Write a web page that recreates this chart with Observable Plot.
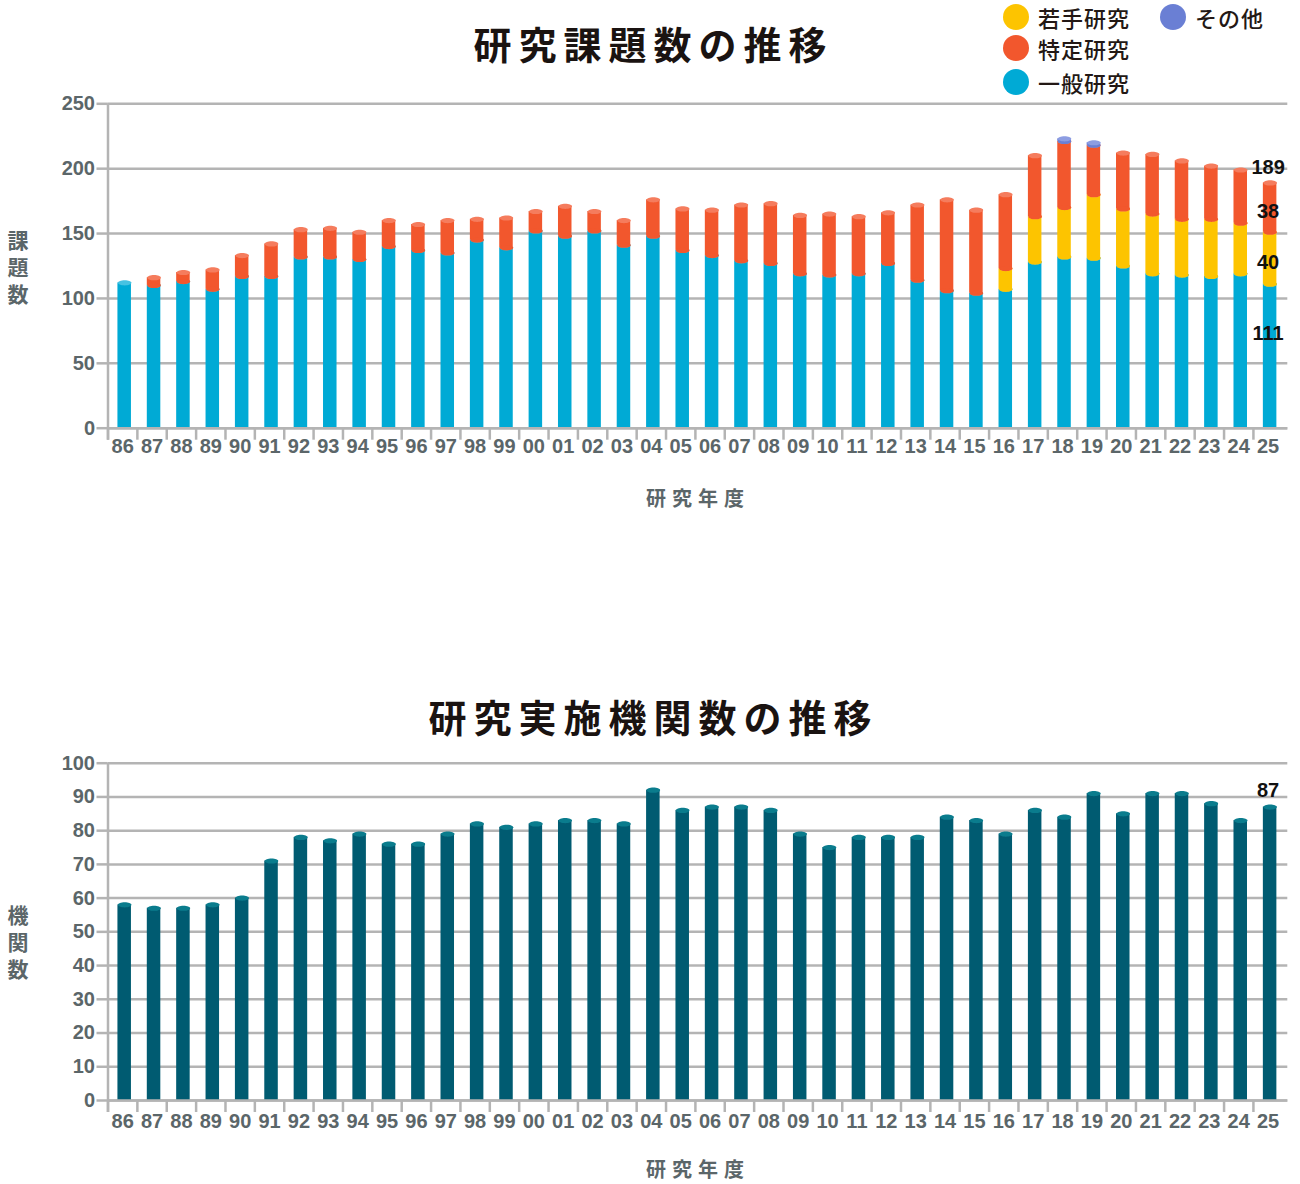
<!DOCTYPE html>
<html><head><meta charset="utf-8">
<script src="https://cdn.jsdelivr.net/npm/d3@7"></script>
<script src="https://cdn.jsdelivr.net/npm/@observablehq/plot@0.6"></script>
<style>
body{margin:0;background:#fff;}
#wrap{position:relative;width:1300px;height:1184px;overflow:hidden;font-family:"Noto Sans CJK JP","Noto Sans",sans-serif;}
.title{position:absolute;left:0;width:1300px;text-align:center;font-weight:700;font-size:38px;letter-spacing:7px;padding-left:7px;box-sizing:border-box;color:#1a1311;line-height:1;}
.ylab{position:absolute;left:7px;width:21px;writing-mode:vertical-rl;text-orientation:upright;font-weight:700;font-size:21px;letter-spacing:6px;line-height:21px;color:#5b6669;}
.xlab{position:absolute;left:595px;width:200px;text-align:center;font-weight:700;font-size:20px;letter-spacing:6px;padding-left:6px;box-sizing:border-box;color:#5b6669;line-height:1;}
.chart{position:absolute;left:0;}
.leg{position:absolute;display:flex;align-items:center;font-size:22px;letter-spacing:1px;color:#231815;line-height:1;font-weight:500;}
.leg span.sw{display:inline-block;width:26px;height:26px;border-radius:50%;margin-right:9px;}
</style></head>
<body><div id="wrap">
<div class="title" style="top:24px">研究課題数の推移</div>
<div id="legend"></div>
<div class="ylab" id="ylab1" style="top:230px"></div>
<div class="chart" id="c1" style="top:80px"></div>
<div class="xlab" style="top:488px">研究年度</div>
<div class="title" style="top:697px">研究実施機関数の推移</div>
<div class="ylab" id="ylab2" style="top:905px"></div>
<div class="chart" id="c2" style="top:740px"></div>
<div class="xlab" style="top:1159px">研究年度</div>
</div>
<script>
// ---------- data ----------
const years = ["86","87","88","89","90","91","92","93","94","95","96","97","98","99",
  "00","01","02","03","04","05","06","07","08","09","10","11","12","13","14","15",
  "16","17","18","19","20","21","22","23","24","25"];
const general  = [112,110,113,107,117,117,132,132,130,140,137,135,145,139,
  152,148,152,141,148,137,133,129,127,119,118,119,127,114,106,104,
  107,128,132,131,125,119,118,117,119,111];
const young    = [0,0,0,0,0,0,0,0,0,0,0,0,0,0,
  0,0,0,0,0,0,0,0,0,0,0,0,0,0,0,0,
  16,35,38,49,44,46,43,44,39,40];
const specific = [0,6,7,15,16,25,21,22,21,20,20,25,16,23,
  15,23,15,19,28,32,35,43,46,45,47,44,39,58,70,64,
  57,47,51,38,43,46,45,41,41,38];
const other    = [0,0,0,0,0,0,0,0,0,0,0,0,0,0,
  0,0,0,0,0,0,0,0,0,0,0,0,0,0,0,0,
  0,0,2,2,0,0,0,0,0,0];
const institutions = [58,57,57,58,60,71,78,77,79,76,76,79,82,81,
  82,83,83,82,92,86,87,87,86,79,75,78,78,78,84,83,
  79,86,84,91,85,91,91,88,83,87];
const yTicksTop = [0,50,100,150,200,250];
const yTicksBottom = [0,10,20,30,40,50,60,70,80,90,100];
const seriesNames = ["一般研究","若手研究","特定研究","その他"];
const legendOrder = [["若手研究","その他"],["特定研究"],["一般研究"]];
const yTitleTop = "課題数";
const yTitleBottom = "機関数";

// ---------- styles ----------
const colors = {"一般研究":"#00aad5","若手研究":"#fdc400","特定研究":"#f2572d","その他":"#6a7fd4"};
const capColors = {"一般研究":"#47c2e2","若手研究":"#fed54a","特定研究":"#f57c5d","その他":"#8d9de2"};
const teal = "#005b71", tealCap = "#0a7c8d";
const grid = "#b4b4b4", axisText = "#5b6669";
const W = 1300, mL = 107.5, step = 29.37, mR = W - mL - step * years.length;
const bw = step * 0.46;
function ellipse(rx, ry) {
  const k = 0.5523;
  return {draw(ctx) {
    ctx.moveTo(rx, 0);
    ctx.bezierCurveTo(rx, ry*k, rx*k, ry, 0, ry);
    ctx.bezierCurveTo(-rx*k, ry, -rx, ry*k, -rx, 0);
    ctx.bezierCurveTo(-rx, -ry*k, -rx*k, -ry, 0, -ry);
    ctx.bezierCurveTo(rx*k, -ry, rx, -ry*k, rx, 0);
    ctx.closePath();
  }};
}
const ell = ellipse(bw/2, 2.6);
const xScale = {type:"band", domain: years, paddingInner:0.54, paddingOuter:0.27, round:false, axis:null};
const svgStyle = {fontFamily:"'Liberation Sans', Arial, sans-serif", fontSize:"20px", fontWeight:"bold", background:"transparent", overflow:"visible"};

document.getElementById("ylab1").textContent = yTitleTop;
document.getElementById("ylab2").textContent = yTitleBottom;

// ---------- legend ----------
const legend = document.getElementById("legend");
const legPos = [[{x:1003,y:17},{x:1160,y:17}],[{x:1003,y:48}],[{x:1003,y:82}]];
legendOrder.forEach((row, r) => row.forEach((name, c) => {
  const d = document.createElement("div");
  d.className = "leg";
  d.style.left = legPos[r][c].x + "px";
  d.style.top = (legPos[r][c].y - 13) + "px";
  d.style.height = "26px";
  d.innerHTML = `<span class="sw" style="background:${colors[name]}"></span>${name}`;
  legend.appendChild(d);
}));

// ---------- chart 1 (stacked) ----------
const stackBase = years.map(() => 0);
const stacked = seriesNames.map(name => {
  const vals = {"一般研究":general,"若手研究":young,"特定研究":specific,"その他":other}[name];
  const rows = years.map((year, i) => {
    const y1 = stackBase[i]; stackBase[i] += vals[i];
    return {year, y1, y2: stackBase[i], v: vals[i], name};
  });
  return {name, rows};
});
const H1 = 440, mT1 = 23.3, mB1 = 92.3;
const marks1 = [Plot.ruleY(yTicksTop, {y: d => d, stroke: grid, strokeWidth: 2.5, insetRight: -5})];
stacked.forEach((s, si) => {
  const rows = s.rows.filter(d => d.v > 0);
  marks1.push(Plot.barY(rows, {x:"year", y1:"y1", y2:"y2", fill: colors[s.name], dx: 2}));
  if (si > 0) marks1.push(Plot.dot(rows, {x:"year", y:"y1", symbol: ell, fill: colors[s.name], dx: 2}));
  marks1.push(Plot.dot(rows, {x:"year", y:"y2", symbol: ell, fill: capColors[s.name], dx: 2}));
});
const lastI = years.length - 1;
const labelDy = {"一般研究": -23, "若手研究": 4, "特定研究": 4};
stacked.forEach(s => {
  const r = s.rows[lastI];
  if (r.v > 0 && labelDy[s.name] !== undefined)
    marks1.push(Plot.text([r], {x:"year", y: d => (d.y1 + d.y2)/2, text: d => String(d.v), dy: labelDy[s.name], fill:"#111", fontSize: 20, fontWeight:"bold"}));
});
marks1.push(Plot.text([{year: years[lastI], total: stackBase[lastI]}], {x:"year", y:"total", text: d => String(d.total), dy: -15, fill:"#111", fontSize: 20, fontWeight:"bold"}));
marks1.push(
  Plot.ruleY([0], {y: d => d, stroke: grid, strokeWidth: 2.5, insetRight: -5}),
  Plot.ruleX([years[0]], {x: d => d, dx: -step/2, stroke: grid, strokeWidth: 2.5, insetBottom: -12}),
  Plot.ruleX(years, {x: d => d, dx: -step/2, stroke: grid, strokeWidth: 2.5, insetTop: H1 - mT1 - mB1, insetBottom: -12}),
  Plot.axisY({ticks: yTicksTop, tickSize: 11, tickPadding: 2, stroke: grid, strokeWidth: 2.5, fill: axisText, label: null}),
  Plot.axisX({tickSize: 0, tickPadding: 11, fill: axisText, label: null})
);
const p1 = Plot.plot({width: W, height: H1, marginLeft: mL, marginRight: mR, marginTop: mT1, marginBottom: mB1,
  x: xScale, y: {domain:[0,250], axis:null}, style: svgStyle, marks: marks1});
document.getElementById("c1").appendChild(p1);

// ---------- chart 2 ----------
const H2 = 444, mT2 = 22.7, mB2 = 84;
const instRows = years.map((year, i) => ({year, v: institutions[i]}));
const p2 = Plot.plot({width: W, height: H2, marginLeft: mL, marginRight: mR, marginTop: mT2, marginBottom: mB2,
  x: xScale, y: {domain:[0,100], axis:null}, style: svgStyle,
  marks: [
    Plot.ruleY(yTicksBottom, {y: d => d, stroke: grid, strokeWidth: 2.5, insetRight: -5}),
    Plot.barY(instRows, {x:"year", y:"v", fill: teal, dx: 2}),
    Plot.dot(instRows, {x:"year", y:"v", symbol: ell, fill: tealCap, dx: 2}),
    Plot.text([instRows[lastI]], {x:"year", y:"v", text: d => String(d.v), dy: -16, fill:"#111", fontSize: 20, fontWeight:"bold"}),
    Plot.ruleY([0], {y: d => d, stroke: grid, strokeWidth: 2.5, insetRight: -5}),
    Plot.ruleX([years[0]], {x: d => d, dx: -step/2, stroke: grid, strokeWidth: 2.5, insetBottom: -12}),
    Plot.ruleX(years, {x: d => d, dx: -step/2, stroke: grid, strokeWidth: 2.5, insetTop: H2 - mT2 - mB2, insetBottom: -12}),
    Plot.axisY({ticks: yTicksBottom, tickSize: 11, tickPadding: 2, stroke: grid, strokeWidth: 2.5, fill: axisText, label: null}),
    Plot.axisX({tickSize: 0, tickPadding: 13, fill: axisText, label: null})
  ]});
document.getElementById("c2").appendChild(p2);
</script>
</body></html>
